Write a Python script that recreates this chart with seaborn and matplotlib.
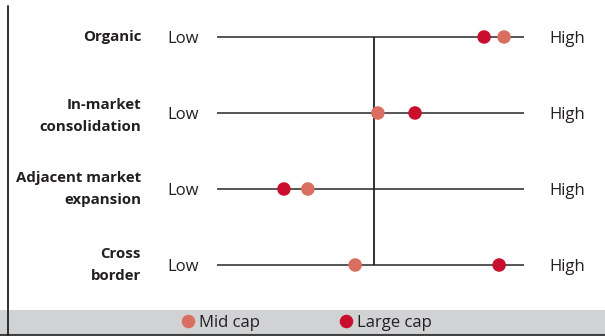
import numpy as np
import pandas as pd
import seaborn as sns
import matplotlib.pyplot as plt
from matplotlib.patches import Rectangle
from matplotlib.lines import Line2D

# data (scores on a 0-10 Low..High scale)
strategies = ['Organic', 'In-market\nconsolidation', 'Adjacent market\nexpansion', 'Cross\nborder']
mid_cap = [9.35, 5.24, 2.96, 4.50]
large_cap = [8.70, 6.45, 2.18, 9.19]
groups = ['Mid cap', 'Large cap']
colors = {'Mid cap': '#d86f60', 'Large cap': '#c8102e'}
scale_lo, scale_hi = 0, 10
midpoint = 5.1

df = pd.DataFrame({
    'strategy': strategies * 2,
    'score': mid_cap + large_cap,
    'group': ['Mid cap'] * 4 + ['Large cap'] * 4,
})
df['row'] = df['strategy'].map({s: i for i, s in enumerate(strategies)})

sns.set_style('white')
plt.rcParams['font.family'] = ['Open Sans', 'DejaVu Sans']
txt = '#231f20'
fs = 12

W, H = 605, 336
fig = plt.figure(figsize=(W / 100, H / 100), dpi=100)
ax = fig.add_axes([0, 0, 1, 1])
ax.patch.set_visible(False)

# pixel layout: 0 -> 217px, 10 -> 524px ; row 0 -> 37px, 76px per row
px = 30.7
x0 = 217
ax.set_xlim(-x0 / px, (W - x0) / px)
ax.set_ylim((H - 37) / 76, -37 / 76)

# legend band + frame lines
fig.patches.append(Rectangle((0, 0), 1, 26 / H, transform=fig.transFigure,
                             facecolor='#d1d2d4', edgecolor='none', zorder=-5))
fig.lines.append(Line2D([0, 1], [1.2 / H, 1.2 / H], transform=fig.transFigure,
                        color='#404040', lw=1.5, zorder=-4))
fig.lines.append(Line2D([7.5 / W, 7.5 / W], [0, 1 - 6 / H], transform=fig.transFigure,
                        color='#231f20', lw=1.3, zorder=-4))

rows = np.arange(len(strategies))
ax.hlines(rows, scale_lo, scale_hi, color='#555555', lw=1.4, zorder=1)
ax.vlines(midpoint, rows[0], rows[-1], color=txt, lw=1.3, zorder=1)

sns.scatterplot(data=df, x='score', y='row', hue='group', hue_order=groups,
                palette=colors, s=95, linewidth=0, zorder=3, ax=ax)

base = 6 / 76  # baseline offset so capitals sit centred on the line
for i, name in enumerate(strategies):
    dy = 0.04 if i == 1 else 0
    ax.text((141 - x0) / px, i + dy, name, ha='right', va='center', fontsize=10.8,
            fontweight='bold', color=txt, linespacing=1.65)
    ax.text((183 - x0) / px, i + base, 'Low', ha='center', va='baseline', fontsize=fs, color=txt)
    ax.text((567 - x0) / px, i + base, 'High', ha='center', va='baseline', fontsize=fs, color=txt)

ax.set_axis_off()
sns.move_legend(ax, 'center', bbox_to_anchor=(305 / W, 1 - 323 / H), ncol=2,
                frameon=False, title=None, fontsize=fs, columnspacing=4.6,
                handletextpad=0.05, borderaxespad=0, handlelength=1.2)
for t in ax.get_legend().get_texts():
    t.set_color(txt)

fig.savefig('out.png', dpi=100)
